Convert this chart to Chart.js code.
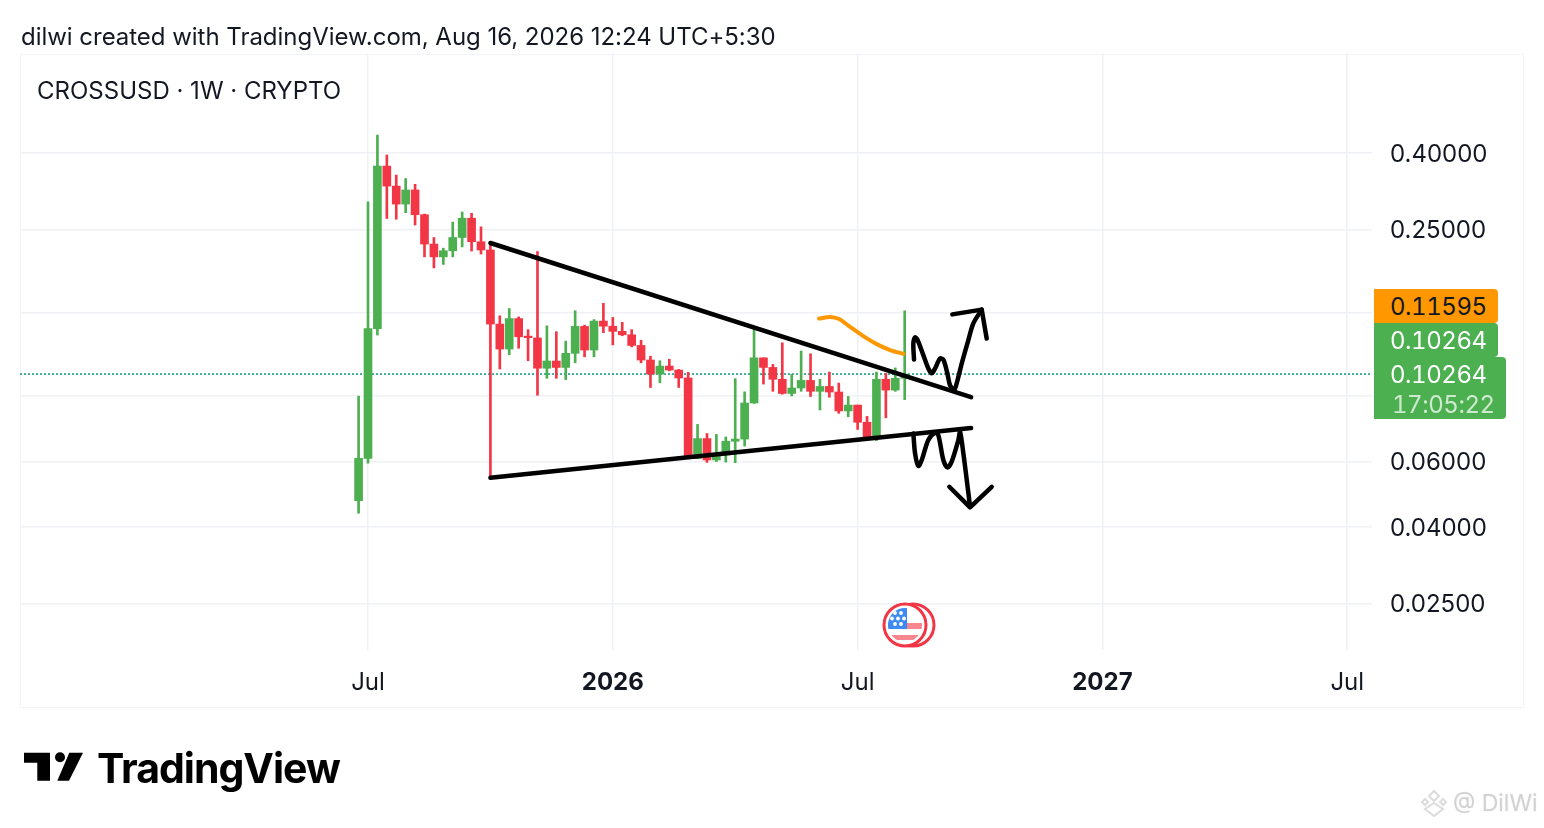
<!DOCTYPE html>
<html>
<head>
<meta charset="utf-8">
<title>CROSSUSD</title>
<script src="https://cdn.jsdelivr.net/npm/chart.js@4"></script>
<style>
html,body{margin:0;padding:0;background:#fff;width:1544px;height:828px;overflow:hidden;font-family:Inter,"Noto Sans",sans-serif;color:#131722;}
.abs{position:absolute;white-space:nowrap;}
#frame{left:20px;top:54px;width:1502px;height:652px;border:1.5px solid #f0f3fa;}
#chart{position:absolute;left:0;top:0;}
.tag{position:absolute;left:1374px;padding-left:16px;box-sizing:border-box;font-size:24px;font-variant-numeric:tabular-nums;letter-spacing:-.45px;}
</style>
</head>
<body>
<div class="abs" id="frame"></div>
<canvas id="chart" width="1544" height="828"></canvas>

<div class="abs" style="left:21px;top:21px;font-size:24px;line-height:31px;letter-spacing:-.03px;">dilwi created with TradingView.com, Aug 16, 2026 12:24 UTC+5:30</div>
<div class="abs" style="left:37px;top:75px;font-size:24px;line-height:31px;">CROSSUSD · 1W · CRYPTO</div>

<div class="tag" style="top:289px;width:124px;height:34px;line-height:35px;background:#ff9800;color:#131722;border-radius:0 4px 4px 0;">0.11595</div>
<div class="tag" style="top:323px;width:124px;height:34px;line-height:35px;background:#4caf50;color:#fff;border-radius:0 4px 4px 0;">0.10264</div>
<div class="tag" style="top:357px;width:132px;height:62px;line-height:35px;background:#4caf50;color:#fff;border-radius:0 4px 4px 0;">0.10264<div style="margin-top:-5px;margin-left:2px;color:rgba(255,255,255,.72);">17:05:22</div></div>

<svg class="abs" style="left:880px;top:600px;" width="60" height="50" viewBox="0 0 60 50">
  <circle cx="33" cy="25" r="21" fill="#fff" stroke="#f23645" stroke-width="3"/>
  <circle cx="25" cy="25" r="21" fill="#fff" stroke="#f23645" stroke-width="3"/>
  <clipPath id="coin"><circle cx="25" cy="25" r="17"/></clipPath>
  <g clip-path="url(#coin)">
    <rect x="8" y="8" width="34" height="34" fill="#fff"/>
    <rect x="8" y="23" width="34" height="6" fill="#f23645" opacity=".6"/>
    <rect x="8" y="35" width="34" height="5" fill="#f23645" opacity=".6"/>
    <rect x="8" y="8" width="19" height="21" fill="#3d8bf2"/>
    <g fill="#fff">
      <circle cx="15" cy="13" r="1.9"/><circle cx="21" cy="13" r="1.9"/>
      <circle cx="12" cy="18.5" r="1.9"/><circle cx="18" cy="18.5" r="1.9"/><circle cx="24" cy="18.5" r="1.9"/>
      <circle cx="15" cy="24" r="1.9"/><circle cx="21" cy="24" r="1.9"/>
    </g>
  </g>
</svg>

<svg class="abs" style="left:20px;top:750px;" width="66" height="34" viewBox="0 0 66 34">
  <path d="M4 2.7H30V30.7H17.3V12.7H4Z" fill="#000"/>
  <circle cx="40" cy="7.3" r="5" fill="#000"/>
  <path d="M49.3 2.7H63L49 30.7H37.3Z" fill="#000"/>
</svg>
<div class="abs" style="left:97px;top:744px;font-size:41px;line-height:48px;font-weight:700;color:#000;letter-spacing:-1px;">TradingView</div>

<svg class="abs" style="left:1418px;top:788px;" width="32" height="30" viewBox="0 0 32 30">
  <g fill="none" stroke="#dcdcdc" stroke-width="2">
    <path d="M16 3L21 8L16 13L11 8Z"/>
    <path d="M7 11L10 14L7 17L4 14Z"/>
    <path d="M25 11L28 14L25 17L22 14Z"/>
    <path d="M16 15L25 21L16 28L7 21Z"/>
  </g>
</svg>
<div class="abs" style="left:1453px;top:788px;font-size:23px;line-height:30px;color:#d2d2d2;text-shadow:0 0 2px #eee;">@ DilWi</div>

<script>

/* =========================================
   Chart data (weekly candles)
========================================= */

const weeks = [0,1,2,3,4,5,6,7,8,9,10,11,12,13,14,15,16,17,18,19,20,21,22,23,24,25,26,27,28,29,30,31,32,33,34,35,36,37,38,39,40,41,42,43,44,45,46,47,48,49,50,51,52,53,54,55,56,57,58];

const opens = [
    .0471,.0611,.1358,.3690,.3263,.2921,.3186,.2736,.2284,.2111,
    .2192,.2378,.2678,.2317,.2202,.1396,.1197,.1444,.1296,.1282,
    .1064,.1112,.1069,.1166,.1376,.1190,.1422,.1378,.1335,.1307,
    .1224,.1119,.1026,.1078,.1052,.1002,.0611,.0690,.0605,.0624,
    .0679,.0688,.0859,.1134,.1069,.0994,.0911,.0942,.0987,.0923,
    .0951,.0919,.0818,.0848,.0763,.0697,.0994,.0930,.1000
];
const highs = [
    .0896,.2964,.4466,.3950,.3492,.3419,.3299,.2748,.2378,.2227,
    .2615,.2782,.2760,.2539,.2294,.1469,.1536,.1459,.1349,.2182,
    .1381,.1332,.1257,.1515,.1387,.1435,.1586,.1454,.1411,.1349,
    .1263,.1146,.1114,.1124,.1056,.1037,.0753,.0712,.0708,.0697,
    .0998,.0920,.1358,.1134,.1089,.1244,.1024,.1183,.1163,.0994,
    .1039,.0971,.0894,.0848,.0791,.1039,.1031,.1066,.1515
];
const lows = [
    .0436,.0593,.1305,.2673,.2661,.2770,.2567,.2111,.1972,.2015,
    .2111,.2245,.2188,.2148,.0543,.1059,.1156,.1203,.1114,.0901,
    .1000,.1000,.0992,.1100,.1141,.1141,.1324,.1228,.1299,.1213,
    .1100,.0945,.0973,.1047,.0945,.0610,.0610,.0596,.0599,.0597,
    .0595,.0659,.0857,.0965,.0923,.0907,.0897,.0923,.0894,.0823,
    .0890,.0806,.0789,.0730,.0694,.0681,.0784,.0923,.0877
];
const closes = [
    .0611,.1358,.3690,.3263,.2921,.3186,.2736,.2284,.2111,.2192,
    .2378,.2678,.2317,.2202,.1396,.1197,.1444,.1291,.1284,.1064,
    .1112,.1069,.1166,.1376,.1190,.1422,.1378,.1335,.1307,.1224,
    .1119,.1026,.1078,.1052,.1002,.0611,.0690,.0605,.0624,.0679,
    .0688,.0859,.1134,.1069,.0994,.0911,.0942,.0987,.0923,.0951,
    .0919,.0818,.0848,.0763,.0697,.0994,.0930,.1000,.10264
];

const lastPrice = 0.10264;

const yTicks = [0.4,0.25,0.15,0.09,0.06,0.04,0.025];
const yTickLabels = ["0.40000","0.25000","","","0.06000","0.04000","0.02500"];

const xTicks = [1,27,53,79,105];
const xTickLabels = ["Jul","2026","Jul","2027","Jul"];
const xTickMajor = [false,true,false,true,false];

/* trend lines, indicator and hand drawn arrows, in week / price */

const upperLineX = [14,65.05];
const upperLineY = [.2299,.0890];
const lowerLineX = [14,65.05];
const lowerLineY = [.0542,.0736];

const orangeX = [48.9,50.07,51.03,52.2,53.6,55.03,56.44,57.86];
const orangeY = [.1444,.1459,.1440,.1372,.1296,.1234,.1190,.1163];

const upSquiggleX = [58.99,58.92,59.10,59.34,59.98,60.51,60.87,61.22,61.75,62.10,62.53,62.81,63.24,63.52,64.06,64.76,65.29,66.18];
const upSquiggleY = [.1122,.1239,.1286,.1269,.1153,.1062,.1031,.1062,.1129,.1122,.1031,.0959,.0930,.0969,.1096,.1265,.1402,.1526];
const upHeadX = [63.06,66.18,66.71];
const upHeadY = [.1482,.1526,.1277];

const downSquiggleX = [58.92,59.10,59.45,59.81,60.51,61.22,61.57,62.10,62.53,62.99,63.70,63.88,64.23,64.59,64.94];
const downSquiggleY = [.0712,.0630,.0583,.0605,.0684,.0715,.0705,.0605,.0578,.0599,.0684,.0719,.0630,.0535,.0454];
const downHeadX = [62.74,64.94,67.24];
const downHeadY = [.0513,.0452,.0513];


/* =========================================
   Helpers
========================================= */

const GREEN = "#4caf50";
const RED = "#f23645";

const candleColors = closes.map((c,i)=> c >= opens[i] ? GREEN : RED);

function drawing(xs,ys,color,width,tension,order){
    return {
        type:"line",
        data:xs.map((x,i)=>({x:x,y:ys[i]})),
        borderColor:color,
        borderWidth:width,
        borderCapStyle:"round",
        borderJoinStyle:"round",
        pointRadius:0,
        tension:tension,
        order:order
    };
}


/* =========================================
   Chart
========================================= */

new Chart(document.getElementById("chart"),{
    type:"bar",
    data:{
        datasets:[
            drawing(upperLineX,upperLineY,"#000",4.5,0,0),
            drawing(lowerLineX,lowerLineY,"#000",4.5,0,0),
            drawing(orangeX,orangeY,"#ff9800",4,.3,0),
            drawing(upSquiggleX,upSquiggleY,"#000",4.5,.3,0),
            drawing(upHeadX,upHeadY,"#000",4.5,0,0),
            drawing(downSquiggleX,downSquiggleY,"#000",4.5,.3,0),
            drawing(downHeadX,downHeadY,"#000",4.5,0,0),
            {
                label:"Body",
                data:weeks.map((w,i)=>({x:w,y:[opens[i],closes[i]]})),
                backgroundColor:candleColors,
                barThickness:8,
                grouped:false,
                order:1
            },
            {
                label:"Wick",
                data:weeks.map((w,i)=>({x:w,y:[lows[i],highs[i]]})),
                backgroundColor:candleColors,
                barThickness:2,
                grouped:false,
                order:2
            },
            {
                type:"line",
                label:"Last",
                data:[{x:-35.96,y:lastPrice},{x:107.63,y:lastPrice}],
                borderColor:"#089981",
                borderWidth:1.5,
                borderDash:[2,2],
                pointRadius:0,
                order:3
            }
        ]
    },
    options:{
        responsive:false,
        animation:false,
        layout:{padding:{left:20,right:20,top:54,bottom:121}},
        plugins:{legend:{display:false},tooltip:{enabled:false}},
        scales:{
            x:{
                type:"linear",
                min:-35.96,
                max:107.63,
                offset:false,
                grid:{color:"#f0f1f4",lineWidth:1.5,drawTicks:false,offset:false},
                border:{display:false},
                afterBuildTicks:(scale)=>{
                    scale.ticks = xTicks.map((v,i)=>({value:v,major:xTickMajor[i]}));
                },
                afterFit:(scale)=>{ scale.height = 57; },
                ticks:{
                    autoSkip:false,
                    maxRotation:0,
                    padding:18,
                    color:"#131722",
                    callback:(v)=>xTickLabels[xTicks.indexOf(v)],
                    font:(ctx)=>({
                        family:"Inter",
                        size:24,
                        weight:ctx.tick && ctx.tick.major ? "bold" : "normal"
                    })
                }
            },
            y:{
                type:"logarithmic",
                position:"right",
                min:0.01879,
                max:0.7355,
                bounds:"data",
                grid:{color:"#f0f1f4",lineWidth:1.5,drawTicks:false},
                border:{display:false},
                afterBuildTicks:(scale)=>{
                    scale.ticks = yTicks.map(v=>({value:v}));
                },
                afterFit:(scale)=>{ scale.width = 152; },
                ticks:{
                    autoSkip:false,
                    padding:18,
                    labelOffset:1.5,
                    color:"#131722",
                    font:{family:"Inter",size:24},
                    callback:(v)=>yTickLabels[yTicks.indexOf(v)]
                }
            }
        }
    }
});

</script>
</body>
</html>
